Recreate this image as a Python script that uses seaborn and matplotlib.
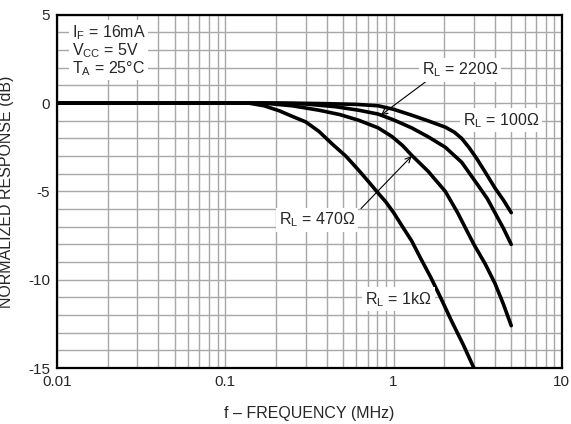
import numpy as np
import pandas as pd
import matplotlib
matplotlib.use("Agg")
import matplotlib.pyplot as plt
import seaborn as sns

# frequency (MHz) / normalized response (dB)
f_1k = [0.01, 0.05, 0.1, 0.138, 0.17, 0.21, 0.25, 0.30, 0.36, 0.43, 0.52, 0.62, 0.71, 0.81, 0.9, 1.0, 1.13, 1.28, 1.45, 1.67, 1.9, 2.2, 2.6, 3.0]
db_1k = [0, 0, 0, 0, -0.15, -0.44, -0.75, -1.06, -1.6, -2.3, -3.0, -3.8, -4.45, -5.1, -5.6, -6.2, -7.0, -7.8, -8.8, -9.9, -11.0, -12.3, -13.7, -15.0]

f_470 = [0.01, 0.05, 0.1, 0.17, 0.25, 0.36, 0.48, 0.62, 0.81, 0.98, 1.13, 1.28, 1.6, 2.03, 2.4, 2.65, 3.0, 3.5, 4.0, 4.5, 5.0]
db_470 = [0, 0, 0, 0, -0.15, -0.4, -0.65, -0.97, -1.4, -1.9, -2.4, -2.95, -3.85, -5.0, -6.2, -7.0, -8.0, -9.1, -10.2, -11.4, -12.6]

f_220 = [0.01, 0.05, 0.1, 0.2, 0.3, 0.45, 0.62, 0.81, 1.0, 1.28, 1.6, 2.03, 2.54, 3.2, 3.6, 4.0, 4.5, 5.0]
db_220 = [0, 0, 0, 0, -0.05, -0.2, -0.4, -0.62, -0.95, -1.4, -1.9, -2.5, -3.35, -4.7, -5.4, -6.2, -7.1, -8.0]

f_100 = [0.01, 0.05, 0.1, 0.25, 0.4, 0.6, 0.81, 1.0, 1.28, 1.6, 2.03, 2.3, 2.54, 2.8, 3.1, 3.5, 4.0, 4.5, 5.0]
db_100 = [0, 0, 0, 0, -0.03, -0.07, -0.15, -0.35, -0.68, -1.0, -1.36, -1.65, -2.0, -2.5, -3.1, -3.9, -4.8, -5.5, -6.2]

series = {"1k": (f_1k, db_1k), "470": (f_470, db_470),
          "220": (f_220, db_220), "100": (f_100, db_100)}

rows = []
for name, (fs, ds) in series.items():
    for fv, dv in zip(fs, ds):
        rows.append({"RL": name, "f": fv, "dB": dv})
df = pd.DataFrame(rows)

sns.set_style("white")
plt.rcParams["font.family"] = ["Liberation Sans", "DejaVu Sans"]
plt.rcParams["mathtext.fontset"] = "custom"
plt.rcParams["mathtext.rm"] = "Liberation Sans"
plt.rcParams["axes.unicode_minus"] = False

FS = 11

fig = plt.figure(figsize=(5.71, 4.24), dpi=100)
ax = fig.add_axes([0.1, 0.132, 0.884, 0.833])

ax.set_xscale("log")
ax.set_xlim(0.01, 10)
ax.set_ylim(-15, 5)

sns.lineplot(data=df, x="f", y="dB", hue="RL", palette=["black"] * 4,
             linewidth=2.6, legend=False, ax=ax, estimator=None, sort=False)

ax.set_yticks([-15, -10, -5, 0, 5])
ax.set_yticks(np.arange(-15, 6, 1), minor=True)
ax.set_xticks([0.01, 0.1, 1, 10])
ax.set_xticklabels(["0.01", "0.1", "1", "10"])
ax.grid(True, which="both", color="#a8a8a8", linewidth=1.0)
ax.tick_params(which="both", length=0, labelsize=FS, pad=5)
for s in ax.spines.values():
    s.set_color("black")
    s.set_linewidth(1.6)

ax.set_xlabel("f – FREQUENCY (MHz)", fontsize=11.5, labelpad=12)
ax.set_ylabel("NORMALIZED RESPONSE (dB)", fontsize=11.5, labelpad=10)

box = dict(facecolor="white", edgecolor="none", pad=2)
ax.text(0.0122, 3.0, "I$_\\mathregular{F}$ = 16mA\nV$_\\mathregular{CC}$ = 5V\nT$_\\mathregular{A}$ = 25°C",
        fontsize=11.5, ha="left", va="center", bbox=box, linespacing=0.95)

arrow = dict(arrowstyle="->", color="black", lw=0.8, shrinkA=0, shrinkB=0)
ax.annotate("", xy=(0.84, -0.68), xytext=(1.66, 1.42), arrowprops=arrow)
ax.text(2.49, 1.9, "R$_\\mathregular{L}$ = 220Ω", fontsize=11.5, ha="center", va="center", bbox=box)
ax.text(4.35, -0.97, "R$_\\mathregular{L}$ = 100Ω", fontsize=11.5, ha="center", va="center", bbox=box)
ax.annotate("", xy=(1.28, -3.0), xytext=(0.64, -5.97), arrowprops=arrow)
ax.text(0.35, -6.6, "R$_\\mathregular{L}$ = 470Ω", fontsize=11.5, ha="center", va="center", bbox=box)
ax.text(1.07, -11.1, "R$_\\mathregular{L}$ = 1kΩ", fontsize=11.5, ha="center", va="center", bbox=box)

fig.savefig("out.png", dpi=100)
